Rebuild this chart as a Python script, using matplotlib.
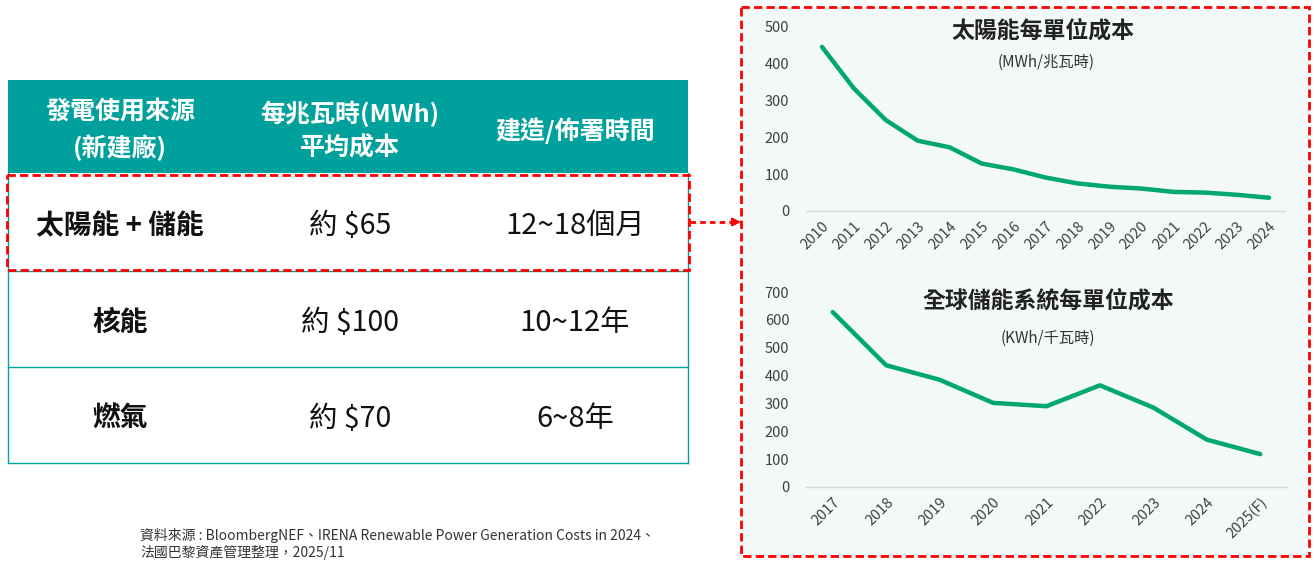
import matplotlib.pyplot as plt
from matplotlib.patches import Rectangle

plt.rcParams['font.family'] = ['Noto Sans CJK TC', 'DejaVu Sans']

# table content
header = ['發電使用來源\n(新建廠)', '每兆瓦時(MWh)\n平均成本', '建造/佈署時間']
sources = ['太陽能 + 儲能', '核能', '燃氣']
costs = ['約 $65', '約 $100', '約 $70']
build_times = ['12~18個月', '10~12年', '6~8年']

# solar cost per MWh
solar_years = ['2010', '2011', '2012', '2013', '2014', '2015', '2016', '2017',
               '2018', '2019', '2020', '2021', '2022', '2023', '2024']
solar_cost = [446, 333, 247, 191, 173, 129, 113, 91, 75, 66, 61, 52, 50, 44, 36]

# storage cost per KWh
storage_years = ['2017', '2018', '2019', '2020', '2021', '2022', '2023', '2024', '2025(F)']
storage_cost = [628, 437, 385, 302, 290, 365, 285, 170, 118]

TEAL = '#00A19C'
GREEN = '#00A870'
RED = '#FF0000'
DARK = '#404040'

fig = plt.figure(figsize=(13.15, 5.62), dpi=100)
W, H = 1315, 562

canvas = fig.add_axes([0, 0, 1, 1])
canvas.set_xlim(0, W)
canvas.set_ylim(H, 0)
canvas.axis('off')

# ---- table on the left
tx0, tx1 = 8, 688
col_x = [120, 350, 575]
head_top, head_bot = 80, 173
row_edges = [173, 271, 367, 463]

canvas.add_patch(Rectangle((tx0, head_top), tx1 - tx0, head_bot - head_top,
                           facecolor=TEAL, edgecolor='none'))
for x, txt in zip(col_x, header):
    canvas.text(x, (head_top + head_bot) / 2 + 4, txt, color='white', fontsize=18,
                fontweight='bold', ha='center', va='center', linespacing=1.5)

# teal borders
canvas.plot([tx0, tx0], [head_bot, row_edges[-1]], color=TEAL, lw=1)
canvas.plot([tx1, tx1], [head_bot, row_edges[-1]], color=TEAL, lw=1)
for y in row_edges[1:]:
    canvas.plot([tx0, tx1], [y, y], color=TEAL, lw=1)

for i in range(len(sources)):
    yc = (row_edges[i] + row_edges[i + 1]) / 2 + 4
    canvas.text(col_x[0], yc, sources[i], fontsize=20, fontweight='bold',
                color='#111111', ha='center', va='center')
    canvas.text(col_x[1], yc, costs[i], fontsize=20.5, color='#111111',
                ha='center', va='center')
    canvas.text(col_x[2], yc, build_times[i], fontsize=21, color='#111111',
                ha='center', va='center')

# dashed highlight on first row
canvas.add_patch(Rectangle((7, 175), 682, 95, facecolor='none', edgecolor=RED,
                           lw=2, ls=(0, (3, 1.5)), zorder=5))

# dashed arrow toward the charts
canvas.plot([690, 733], [222, 222], color=RED, lw=2, ls=(0, (2, 1.5)))
canvas.annotate('', xy=(741, 222), xytext=(731, 222),
                arrowprops=dict(arrowstyle='-|>', color=RED, lw=1.5,
                                mutation_scale=12, shrinkA=0, shrinkB=0))

# source note
canvas.text(140, 544, '資料來源 : BloombergNEF、IRENA Renewable Power Generation Costs in 2024、\n'
            '法國巴黎資產管理整理，2025/11', fontsize=10, color='#333333',
            ha='left', va='center', linespacing=1.15)

# ---- panel on the right
canvas.add_patch(Rectangle((741, 7), 568, 549, facecolor='#F3F9F6', edgecolor=RED,
                           lw=2, ls=(0, (3, 1.5)), zorder=1))


def px_axes(x0, x1, ytop, ybot):
    return fig.add_axes([x0 / W, (H - ybot) / H, (x1 - x0) / W, (ybot - ytop) / H])


def style(ax, labels, top):
    ax.patch.set_alpha(0)
    for s in ['top', 'right', 'left']:
        ax.spines[s].set_visible(False)
    ax.spines['bottom'].set_color('#D9D9D9')
    ax.spines['bottom'].set_linewidth(1)
    ax.set_xlim(-0.5, len(labels) - 0.5)
    ax.set_ylim(0, top)
    ax.set_yticks(range(0, top + 1, 100))
    ax.set_xticks(range(len(labels)))
    ax.set_xticklabels(labels, rotation=45, ha='right', va='top',
                       rotation_mode='anchor')
    ax.tick_params(length=0, labelsize=10.5, labelcolor=DARK)
    ax.tick_params(axis='y', pad=12)
    ax.tick_params(axis='x', pad=6)


ax1 = px_axes(806, 1285, 27, 211)
ax1.plot(range(len(solar_years)), solar_cost, color=GREEN, lw=3.2,
         solid_capstyle='round', solid_joinstyle='round')
style(ax1, solar_years, 500)

ax2 = px_axes(806, 1287, 292, 487)
ax2.plot(range(len(storage_years)), storage_cost, color=GREEN, lw=3.2,
         solid_capstyle='round', solid_joinstyle='round')
style(ax2, storage_years, 700)

canvas.text(1043, 31, '太陽能每單位成本', fontsize=16.5, fontweight='bold',
            color='#222222', ha='center', va='center', zorder=6)
canvas.text(1046, 62, '(MWh/兆瓦時)', fontsize=11, color='#333333',
            ha='center', va='center', zorder=6)
canvas.text(1048, 301, '全球儲能系統每單位成本', fontsize=16.5, fontweight='bold',
            color='#222222', ha='center', va='center', zorder=6)
canvas.text(1048, 338, '(KWh/千瓦時)', fontsize=11, color='#333333',
            ha='center', va='center', zorder=6)

fig.savefig('out.png', dpi=100)
